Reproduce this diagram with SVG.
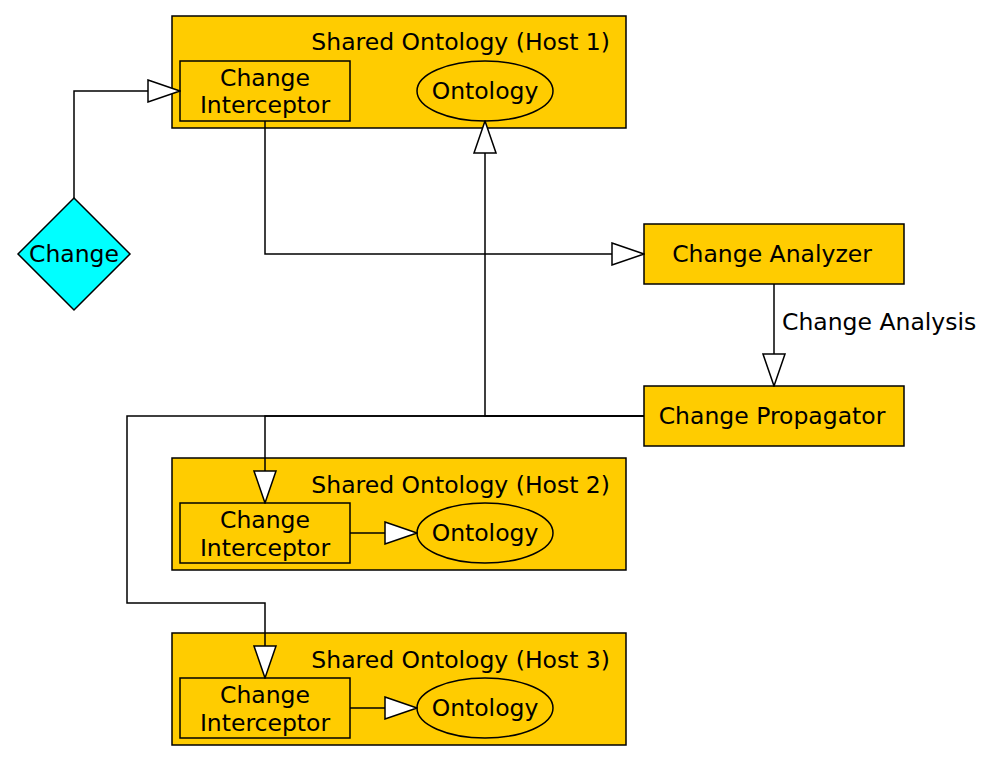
<svg xmlns="http://www.w3.org/2000/svg" width="1002" height="764" viewBox="0 0 1002 764">
<style>
.box{fill:#ffcc00;stroke:#000;stroke-width:1.5}
.t{font-family:"DejaVu Sans",sans-serif;font-size:23.5px;fill:#000}
.c{text-anchor:middle}
.e{fill:none;stroke:#000;stroke-width:1.5}
</style>
<defs>
<marker id="a" viewBox="-1 -1 34 24" refX="32" refY="11" markerWidth="34" markerHeight="24" markerUnits="userSpaceOnUse" orient="auto">
<path d="M0,0 L32,11 L0,22 Z" fill="#fff" stroke="#000" stroke-width="1.5"/>
</marker>
</defs>
<rect width="1002" height="764" fill="#fff"/>
<g id="host1">
<rect class="box" x="172" y="16" width="454" height="112"/>
<text class="t" x="610" y="50" text-anchor="end">Shared Ontology (Host 1)</text>
</g>
<g id="ci1">
<rect class="box" x="180" y="61" width="170" height="60"/>
<text class="t c" x="265" y="86">Change</text>
<text class="t c" x="265" y="113">Interceptor</text>
</g>
<g id="ont1">
<ellipse class="box" cx="485" cy="91" rx="68" ry="30"/>
<text class="t c" x="485" y="99">Ontology</text>
</g>
<g id="host2">
<rect class="box" x="172" y="458" width="454" height="112"/>
<text class="t" x="610" y="493" text-anchor="end">Shared Ontology (Host 2)</text>
</g>
<g id="ci2">
<rect class="box" x="180" y="503" width="170" height="60"/>
<text class="t c" x="265" y="528">Change</text>
<text class="t c" x="265" y="556">Interceptor</text>
</g>
<g id="ont2">
<ellipse class="box" cx="485" cy="533" rx="68" ry="30"/>
<text class="t c" x="485" y="541">Ontology</text>
</g>
<g id="host3">
<rect class="box" x="172" y="633" width="454" height="112"/>
<text class="t" x="610" y="668" text-anchor="end">Shared Ontology (Host 3)</text>
</g>
<g id="ci3">
<rect class="box" x="180" y="678" width="170" height="60"/>
<text class="t c" x="265" y="703">Change</text>
<text class="t c" x="265" y="731">Interceptor</text>
</g>
<g id="ont3">
<ellipse class="box" cx="485" cy="708" rx="68" ry="30"/>
<text class="t c" x="485" y="716">Ontology</text>
</g>
<g id="change">
<polygon points="74,198 130,254 74,310 18,254" fill="#00ffff" stroke="#000" stroke-width="1.5"/>
<text class="t c" x="74" y="262">Change</text>
</g>
<g id="analyzer">
<rect class="box" x="644" y="224" width="260" height="60"/>
<text class="t c" x="772" y="262">Change Analyzer</text>
</g>
<g id="propagator">
<rect class="box" x="644" y="386" width="260" height="60"/>
<text class="t c" x="772" y="424">Change Propagator</text>
</g>
<g id="connectors">
<polyline class="e" points="74,198 74,91 180,91" marker-end="url(#a)"/>
<polyline class="e" points="265,121 265,254 644,254" marker-end="url(#a)"/>
<polyline class="e" points="774,284 774,386" marker-end="url(#a)"/>
<text class="t" x="782" y="330">Change Analysis</text>
<polyline class="e" points="644,416 485,416 485,121" marker-end="url(#a)"/>
<polyline class="e" points="644,416 265,416 265,503" marker-end="url(#a)"/>
<polyline class="e" points="644,416 127,416 127,603 265,603 265,678" marker-end="url(#a)"/>
<polyline class="e" points="350,533 417,533" marker-end="url(#a)"/>
<polyline class="e" points="350,708 417,708" marker-end="url(#a)"/>
</g>
</svg>
